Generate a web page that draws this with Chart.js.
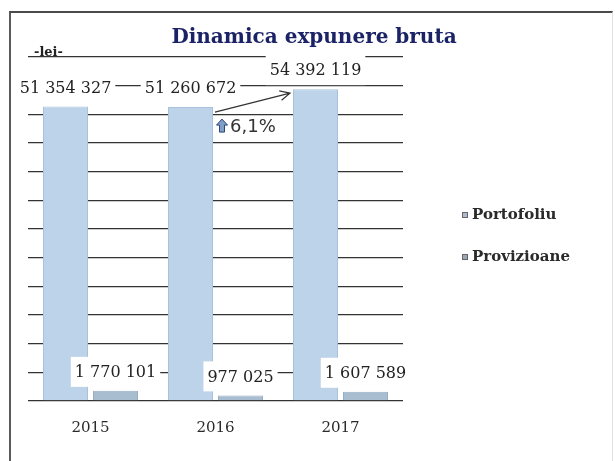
<!DOCTYPE html>
<html>
<head>
<meta charset="utf-8">
<script src="https://cdn.jsdelivr.net/npm/chart.js@4.4.1/dist/chart.umd.min.js"></script>
<style>
    html, body { margin: 0; padding: 0; background: #fff; }
    #wrap { position: relative; width: 615px; height: 461px; overflow: hidden; }
    #frame {
        position: absolute; left: 9px; top: 11px; width: 601px; height: 470px;
        border-left: 2px solid #5a5a5a; border-top: 2px solid #4a4a4a; border-right: 1px solid #e2e2e2;
    }
    canvas { position: absolute; left: 0; top: 0; }
</style>
</head>
<body>
<div id="wrap">
    <div id="frame"></div>
    <canvas id="expunereChart" width="615" height="461"></canvas>
</div>
<script>
const years = ['2015', '2016', '2017'];
const portofoliu = [51354327, 51260672, 54392119];
const provizioane = [1770101, 977025, 1607589];
const seriesNames = ['Portofoliu', 'Provizioane'];
const chartTitle = 'Dinamica expunere bruta';
const unitLabel = '-lei-';
const yMin = 0;
const yMax = 60000000;
const yStep = 5000000;

function fmt(v) {
    return v.toString().replace(/\B(?=(\d{3})+(?!\d))/g, ' ');
}

// value labels in white boxes, growth arrow, title and side legend
const decorations = {
    id: 'decorations',
    afterDatasetsDraw(chart) {
        const ctx = chart.ctx;
        ctx.save();
        ctx.font = '16px "DejaVu Serif"';
        ctx.textAlign = 'center';
        ctx.textBaseline = 'middle';
        chart.data.datasets.forEach((ds, i) => {
            chart.getDatasetMeta(i).data.forEach((bar, j) => {
                const txt = fmt(ds.data[j]);
                const w = ctx.measureText(txt).width + 8;
                const cy = bar.y - 19;
                ctx.fillStyle = '#fff';
                ctx.fillRect(bar.x - w / 2, cy - 15, w, 30);
                ctx.fillStyle = '#222';
                ctx.fillText(txt, bar.x, cy + 1);
            });
        });

        // growth 2016 -> 2017
        const bars = chart.getDatasetMeta(0).data;
        const a = bars[1], b = bars[2];
        const x1 = a.x + a.width / 2;
        const boxTop = a.y + 9;
        ctx.fillStyle = '#fff';
        ctx.fillRect(x1 + 1, boxTop, 77, 25);

        const growth = ((portofoliu[2] / portofoliu[1] - 1) * 100).toFixed(1).replace('.', ',') + '%';
        const cx = x1 + 9, ty = boxTop + 3;
        ctx.beginPath();
        ctx.moveTo(cx, ty);
        ctx.lineTo(cx + 5.5, ty + 6);
        ctx.lineTo(cx + 2.5, ty + 6);
        ctx.lineTo(cx + 2.5, ty + 13);
        ctx.lineTo(cx - 2.5, ty + 13);
        ctx.lineTo(cx - 2.5, ty + 6);
        ctx.lineTo(cx - 5.5, ty + 6);
        ctx.closePath();
        ctx.fillStyle = '#7f9ec8';
        ctx.fill();
        ctx.strokeStyle = '#2c4677';
        ctx.lineWidth = 1;
        ctx.stroke();

        ctx.font = '18px "DejaVu Sans"';
        ctx.textAlign = 'left';
        ctx.fillStyle = '#333';
        ctx.fillText(growth, x1 + 17, boxTop + 11);

        const sx = x1 + 2, sy = a.y + 5;
        const ex = b.x - b.width / 2 - 3, ey = b.y + 4;
        const ang = Math.atan2(ey - sy, ex - sx);
        ctx.beginPath();
        ctx.moveTo(sx, sy);
        ctx.lineTo(ex, ey);
        ctx.moveTo(ex - 11 * Math.cos(ang - 0.45), ey - 11 * Math.sin(ang - 0.45));
        ctx.lineTo(ex, ey);
        ctx.lineTo(ex - 11 * Math.cos(ang + 0.45), ey - 11 * Math.sin(ang + 0.45));
        ctx.strokeStyle = '#333';
        ctx.lineWidth = 1.2;
        ctx.stroke();
        ctx.restore();
    },
    afterDraw(chart) {
        const ctx = chart.ctx;
        const area = chart.chartArea;
        ctx.save();
        ctx.textBaseline = 'alphabetic';
        ctx.textAlign = 'center';
        ctx.font = 'bold 20px "DejaVu Serif"';
        ctx.fillStyle = '#1b2266';
        ctx.fillText(chartTitle, 314, 43);

        ctx.textAlign = 'left';
        ctx.font = 'bold 13px "DejaVu Serif"';
        ctx.fillStyle = '#222';
        ctx.fillText(unitLabel, 34, 56);

        // legend
        ctx.textBaseline = 'middle';
        ctx.font = 'bold 15px "DejaVu Serif"';
        const lx = area.right + 59;
        chart.data.datasets.forEach((ds, i) => {
            const ly = 215 + i * 42;
            ctx.fillStyle = ds.legendColor;
            ctx.fillRect(lx, ly - 3, 6, 6);
            ctx.strokeStyle = '#666';
            ctx.lineWidth = 1;
            ctx.strokeRect(lx + 0.5, ly - 2.5, 5, 5);
            ctx.fillStyle = '#2a2a2a';
            ctx.fillText(ds.label, lx + 10, ly);
        });
        ctx.restore();
    }
};

let ctx = document.getElementById('expunereChart');
const expunereChart = new Chart(ctx, {
    type: 'bar',
    data: {
        labels: years,
        datasets: [{
            label: seriesNames[0],
            data: portofoliu,
            backgroundColor: '#bcd3e9',
            borderColor: '#a9c2dc',
            borderWidth: 1,
            legendColor: '#a9bbd0'
        }, {
            label: seriesNames[1],
            data: provizioane,
            backgroundColor: '#a9bdd1',
            borderColor: '#98adc2',
            borderWidth: 1,
            legendColor: '#97a8ba'
        }]
    },
    options: {
        responsive: false,
        animation: false,
        layout: {
            padding: { left: 28, right: 212, top: 57, bottom: 6 }
        },
        datasets: {
            bar: { categoryPercentage: 0.8, barPercentage: 0.9 }
        },
        scales: {
            x: {
                grid: { display: false, drawTicks: false },
                border: { display: false },
                ticks: {
                    padding: 18,
                    color: '#2a2a2a',
                    font: { family: '"DejaVu Serif"', size: 15 }
                }
            },
            y: {
                min: yMin,
                max: yMax,
                grid: { color: '#333', lineWidth: 1.3, drawTicks: false },
                border: { display: false },
                ticks: { display: false, stepSize: yStep }
            }
        },
        plugins: {
            legend: { display: false },
            tooltip: { enabled: false }
        }
    },
    plugins: [decorations]
});
</script>
</body>
</html>
